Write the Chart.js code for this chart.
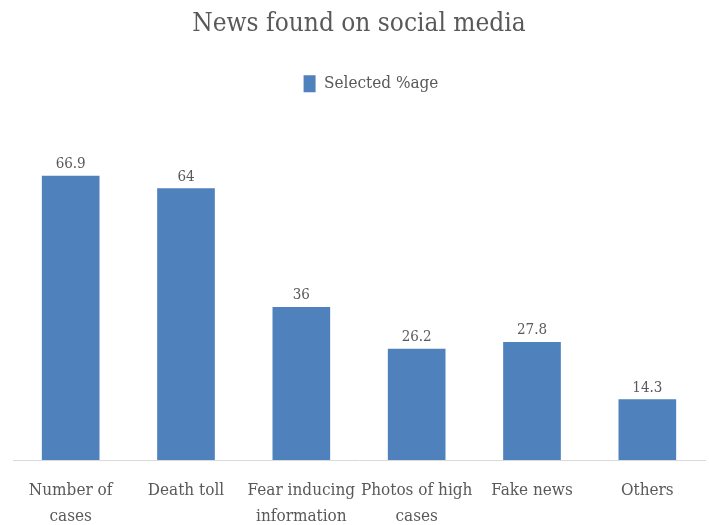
<!DOCTYPE html>
<html>
<head>
<meta charset="utf-8">
<script src="https://cdn.jsdelivr.net/npm/chart.js@4/dist/chart.umd.min.js"></script>
<style>
  html, body { margin: 0; padding: 0; background: #fff; }
  #wrap { width: 709px; height: 525px; }
</style>
</head>
<body>
<div id="wrap"><canvas id="newsChart"></canvas></div>
<script>
const categories = [
  ["Number of", "cases"],
  ["Death toll"],
  ["Fear inducing", "information"],
  ["Photos of high", "cases"],
  ["Fake news"],
  ["Others"],
];
const selectedPct = [66.9, 64, 36, 26.2, 27.8, 14.3];

const FONT = "'DejaVu Serif Condensed', 'Liberation Serif', serif";
const textColor = "#595959";
const barColor = "#4f81bd";

// draw value above each bar
const valueLabels = {
  id: "valueLabels",
  afterDatasetsDraw(chart) {
    const { ctx } = chart;
    const meta = chart.getDatasetMeta(0);
    ctx.save();
    ctx.font = "15px " + FONT;
    ctx.fillStyle = textColor;
    ctx.textAlign = "center";
    ctx.textBaseline = "bottom";
    meta.data.forEach((bar, i) => {
      ctx.fillText(String(selectedPct[i]), bar.x, bar.y - 4);
    });
    ctx.restore();
  },
};

// leave more room under the legend, and nudge it right a bit
const legendGap = {
  id: "legendGap",
  beforeInit(chart) {
    const origFit = chart.legend.fit;
    chart.legend.fit = function () {
      origFit.bind(chart.legend)();
      this.height += 18;
    };
  },
  afterLayout(chart) {
    chart.legend.left += 12;
    chart.legend.right += 12;
  },
};

new Chart(document.getElementById("newsChart").getContext("2d"), {
  type: "bar",
  data: {
    labels: categories,
    datasets: [
      {
        label: "Selected %age",
        data: selectedPct,
        backgroundColor: barColor,
        borderWidth: 0,
        barPercentage: 0.5,
        categoryPercentage: 1,
      },
    ],
  },
  options: {
    responsive: true,
    maintainAspectRatio: false,
    animation: false,
    layout: { padding: { left: 13, right: 4, top: 0, bottom: 0 } },
    plugins: {
      title: {
        display: true,
        text: "News found on social media",
        color: textColor,
        font: { family: FONT, size: 26, weight: "normal" },
        padding: { top: 9, bottom: 25 },
      },
      legend: {
        position: "top",
        labels: {
          color: textColor,
          font: { family: FONT, size: 17 },
          boxWidth: 12,
          boxHeight: 17,
          padding: 10,
        },
      },
      tooltip: { enabled: false },
    },
    scales: {
      x: {
        grid: { display: false },
        border: { display: true, color: "#d9d9d9", width: 1 },
        ticks: {
          color: textColor,
          font: { family: FONT, size: 17, lineHeight: 1.5 },
          maxRotation: 0,
          autoSkip: false,
          padding: 10,
        },
        afterFit(scale) {
          scale.height = 65;
        },
      },
      y: {
        display: false,
        min: 0,
        max: 80,
      },
    },
  },
  plugins: [valueLabels, legendGap],
});
</script>
</body>
</html>
